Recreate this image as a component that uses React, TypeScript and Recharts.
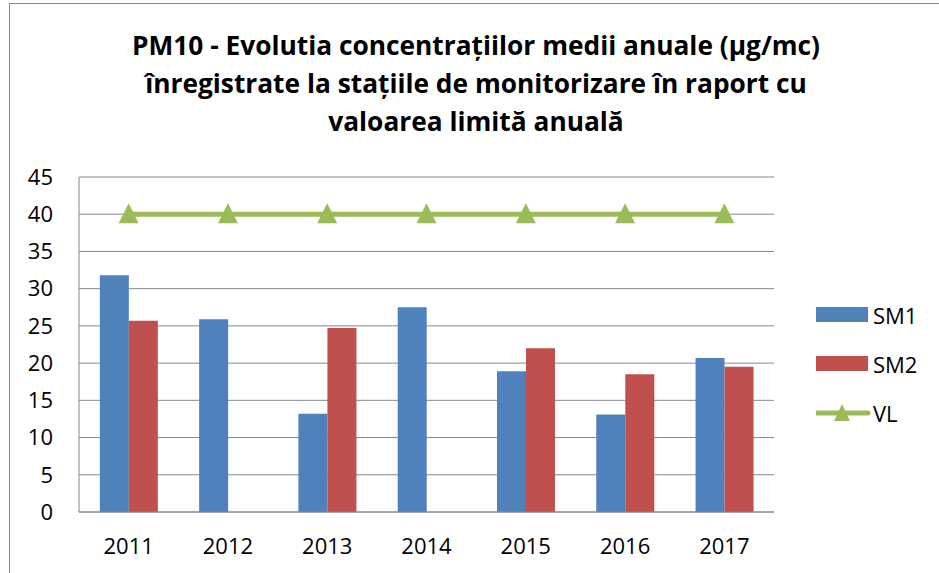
import React from "react"
import { ComposedChart, Bar, Line, XAxis, YAxis, CartesianGrid } from "recharts"

const years = ["2011", "2012", "2013", "2014", "2015", "2016", "2017"]
const sm1 = [31.8, 25.9, 13.2, 27.5, 18.9, 13.1, 20.7]
const sm2: (number | null)[] = [25.7, null, 24.7, null, 22.0, 18.5, 19.5]
const vl = [40, 40, 40, 40, 40, 40, 40]
const yTicks = [0, 5, 10, 15, 20, 25, 30, 35, 40, 45]

const titleLines = [
  "PM10 - Evolutia concentrațiilor medii anuale (µg/mc)",
  "înregistrate la stațiile de monitorizare în raport cu",
  "valoarea limită anuală",
]

const BLUE = "#4F81BD"
const RED = "#C0504D"
const GREEN = "#9BBB59"
const GRID = "#888888"
const FONT = "'Open Sans', Lato, sans-serif"

const data = years.map((year, i) => ({ year, SM1: sm1[i], SM2: sm2[i], VL: vl[i] }))

// triangle marker for the limit line
const Triangle = (props: any) => {
  const { cx, cy } = props
  if (cx == null || cy == null) return null
  return (
    <polygon
      points={`${cx},${cy - 11} ${cx - 10},${cy + 9} ${cx + 10},${cy + 9}`}
      fill={GREEN}
    />
  )
}

const LegendBox = () => {
  const rows = [
    { name: "SM1", kind: "bar", color: BLUE },
    { name: "SM2", kind: "bar", color: RED },
    { name: "VL", kind: "line", color: GREEN },
  ]
  return (
    <div style={{ fontFamily: FONT, fontSize: 22, color: "#000" }}>
      {rows.map((r) => (
        <div key={r.name} style={{ display: "flex", alignItems: "center", height: 49 }}>
          <svg width={56} height={24}>
            {r.kind === "bar" ? (
              <rect x={0} y={4} width={52} height={15} fill={r.color} />
            ) : (
              <g>
                <line x1={1} y1={12} x2={52} y2={12} stroke={r.color} strokeWidth={5} strokeLinecap="round" />
                <polygon points="26,3 18,20 34,20" fill={r.color} />
              </g>
            )}
          </svg>
          <span style={{ marginLeft: 1 }}>{r.name}</span>
        </div>
      ))}
    </div>
  )
}

export default function App() {
  return (
    <div
      style={{
        position: "absolute",
        left: 0,
        top: 0,
        width: 939,
        height: 573,
        overflow: "hidden",
        background: "#fff",
      }}
    >
      {/* chart frame */}
      <div
        style={{
          position: "absolute",
          left: 9,
          top: 3,
          width: 980,
          height: 620,
          border: "1.5px solid #8a8a8a",
        }}
      />

      {/* title */}
      {titleLines.map((line, i) => (
        <div
          key={i}
          style={{
            position: "absolute",
            left: 0,
            width: 952,
            top: 27 + i * 38,
            textAlign: "center",
            fontFamily: FONT,
            fontWeight: 700,
            fontSize: 26.3,
            lineHeight: "36px",
            color: "#000",
            whiteSpace: "nowrap",
          }}
        >
          {line}
        </div>
      ))}

      <div style={{ position: "absolute", left: 0, top: 0 }}>
        <ComposedChart
          width={939}
          height={573}
          data={data}
          margin={{ top: 177, right: 165, bottom: 0, left: 0 }}
          barCategoryGap="21%"
          barGap={0}
        >
          <CartesianGrid vertical={false} stroke={GRID} strokeWidth={1} />
          <XAxis
            dataKey="year"
            height={61}
            tickLine={false}
            tickSize={0}
            tickMargin={26}
            axisLine={{ stroke: GRID }}
            tick={{ fontSize: 22, fill: "#000", fontFamily: FONT }}
          />
          <YAxis
            width={79}
            domain={[0, 45]}
            ticks={yTicks}
            interval={0}
            tickLine={false}
            tickSize={0}
            tickMargin={26}
            axisLine={{ stroke: GRID }}
            tick={{ fontSize: 22, fill: "#000", fontFamily: FONT }}
          />
          <Bar dataKey="SM1" fill={BLUE} isAnimationActive={false} />
          <Bar dataKey="SM2" fill={RED} isAnimationActive={false} />
          <Line
            dataKey="VL"
            stroke={GREEN}
            strokeWidth={5}
            dot={<Triangle />}
            activeDot={false}
            isAnimationActive={false}
          />
        </ComposedChart>
      </div>

      {/* legend */}
      <div style={{ position: "absolute", left: 816, top: 290 }}>
        <LegendBox />
      </div>
    </div>
  )
}
